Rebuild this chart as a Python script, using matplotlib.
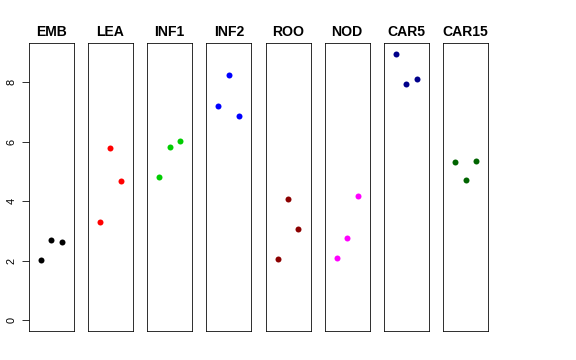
import matplotlib
matplotlib.use("Agg")
import matplotlib.pyplot as plt

plt.rcParams["font.family"] = ["Liberation Sans", "DejaVu Sans"]

# one panel per stage, three replicates each
stages = ["EMB", "LEA", "INF1", "INF2", "ROO", "NOD", "CAR5", "CAR15"]
colors = ["#000000", "#FF0000", "#00CD00", "#0000FF",
          "#8B0000", "#FF00FF", "#00008B", "#006400"]
emb = [2.04, 2.70, 2.64]
lea = [3.30, 5.79, 4.68]
inf1 = [4.82, 5.81, 6.01]
inf2 = [7.21, 8.23, 6.87]
roo = [2.07, 4.07, 3.05]
nod = [2.10, 2.78, 4.16]
car5 = [8.94, 7.94, 8.09]
car15 = [5.30, 4.71, 5.35]
values = [emb, lea, inf1, inf2, roo, nod, car5, car15]
reps = [1, 2, 3]
yticks = [0, 2, 4, 6, 8]

W, H = 576, 360
fig = plt.figure(figsize=(W / 72, H / 72), dpi=72)

ymax = max(max(v) for v in values)
pad = 0.04 * ymax
for i, (name, col, vals) in enumerate(zip(stages, colors, values)):
    left = 28.7 + i * 59.2
    ax = fig.add_axes([left / W, 29 / H, 45 / W, 287.7 / H])
    ax.plot(reps, vals, "o", color=col, ms=6, mec="none")
    ax.set_xlim(-0.16, 4.16)
    ax.set_ylim(-pad, ymax + pad)
    ax.set_xticks([])
    ax.set_title(name, fontsize=14, fontweight="bold", pad=7)
    for s in ax.spines.values():
        s.set_linewidth(0.8)
    if i == 0:
        ax.set_yticks(yticks)
        ax.tick_params(axis="y", length=7.5, width=0.8, pad=5, labelsize=11)
        for t in ax.get_yticklabels():
            t.set_rotation(90)
            t.set_va("center")
    else:
        ax.set_yticks([])

fig.savefig("out.png", dpi=72)
